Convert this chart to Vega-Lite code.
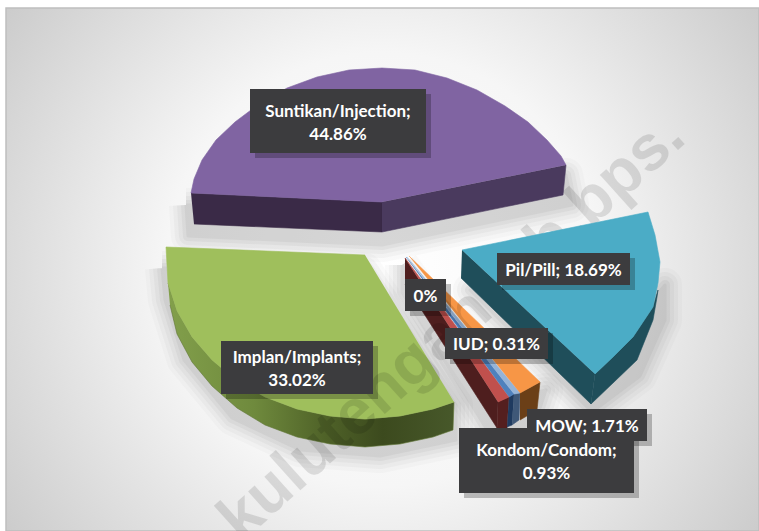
{
"$schema":"https://vega.github.io/schema/vega-lite/v6.json",
"width":759,"height":531,"padding":0,"autosize":{"type":"none"},"background":"#ffffff",
"config":{"view":{"stroke":null}},
"datasets":{
"panel":[{"x1":6,"y1":8,"x2":759,"y2":531}],
"shadows":[
{"id":"s1","i":0,"x":186,"y":205},{"id":"s1","i":1,"x":188,"y":236},{"id":"s1","i":2,"x":382,"y":245},{"id":"s1","i":3,"x":572,"y":205},{"id":"s1","i":4,"x":566,"y":175},{"id":"s1","i":5,"x":382,"y":205},{"id":"s1","i":6,"x":186,"y":205},
{"id":"s2","i":0,"x":162,"y":268},{"id":"s2","i":1,"x":165,"y":300},{"id":"s2","i":2,"x":184,"y":360},{"id":"s2","i":3,"x":232,"y":418},{"id":"s2","i":4,"x":300,"y":450},{"id":"s2","i":5,"x":380,"y":456},{"id":"s2","i":6,"x":456,"y":440},{"id":"s2","i":7,"x":456,"y":405},{"id":"s2","i":8,"x":365,"y":270},{"id":"s2","i":9,"x":162,"y":268},
{"id":"s3","i":0,"x":592,"y":412},{"id":"s3","i":1,"x":640,"y":376},{"id":"s3","i":2,"x":665,"y":320},{"id":"s3","i":3,"x":665,"y":285},{"id":"s3","i":4,"x":600,"y":360},{"id":"s3","i":5,"x":470,"y":290},{"id":"s3","i":6,"x":592,"y":412},
{"id":"s4","i":0,"x":402,"y":265},{"id":"s4","i":1,"x":402,"y":292},{"id":"s4","i":2,"x":492,"y":438},{"id":"s4","i":3,"x":535,"y":423},{"id":"s4","i":4,"x":546,"y":390},{"id":"s4","i":5,"x":500,"y":400},{"id":"s4","i":6,"x":402,"y":265}
],
"shapes":[
{"id":"a1","part":"Suntikan side left","i":0,"x":191,"y":193},{"id":"a1","part":"Suntikan side left","i":1,"x":382,"y":202},{"id":"a1","part":"Suntikan side left","i":2,"x":382,"y":232},{"id":"a1","part":"Suntikan side left","i":3,"x":194,"y":224},
{"id":"a2","part":"Suntikan side right","i":0,"x":382,"y":202},{"id":"a2","part":"Suntikan side right","i":1,"x":566,"y":165},{"id":"a2","part":"Suntikan side right","i":2,"x":563,"y":195},{"id":"a2","part":"Suntikan side right","i":3,"x":382,"y":232},
{"id":"a3","part":"Suntikan top","i":0,"x":382,"y":202},{"id":"a3","part":"Suntikan top","i":1,"x":191,"y":193},{"id":"a3","part":"Suntikan top","i":2,"x":194,"y":179},{"id":"a3","part":"Suntikan top","i":3,"x":202,"y":160},{"id":"a3","part":"Suntikan top","i":4,"x":216,"y":140},{"id":"a3","part":"Suntikan top","i":5,"x":235,"y":122},{"id":"a3","part":"Suntikan top","i":6,"x":259,"y":104},{"id":"a3","part":"Suntikan top","i":7,"x":287,"y":88},{"id":"a3","part":"Suntikan top","i":8,"x":317,"y":77},{"id":"a3","part":"Suntikan top","i":9,"x":349,"y":70},{"id":"a3","part":"Suntikan top","i":10,"x":382,"y":68},{"id":"a3","part":"Suntikan top","i":11,"x":415,"y":70},{"id":"a3","part":"Suntikan top","i":12,"x":447,"y":78},{"id":"a3","part":"Suntikan top","i":13,"x":477,"y":90},{"id":"a3","part":"Suntikan top","i":14,"x":505,"y":106},{"id":"a3","part":"Suntikan top","i":15,"x":528,"y":122},{"id":"a3","part":"Suntikan top","i":16,"x":547,"y":140},{"id":"a3","part":"Suntikan top","i":17,"x":561,"y":156},{"id":"a3","part":"Suntikan top","i":18,"x":566,"y":165},
{"id":"b1","part":"Implan side","i":0,"x":168,"y":283},{"id":"b1","part":"Implan side","i":1,"x":177,"y":311},{"id":"b1","part":"Implan side","i":2,"x":192,"y":337},{"id":"b1","part":"Implan side","i":3,"x":212,"y":360},{"id":"b1","part":"Implan side","i":4,"x":237,"y":381},{"id":"b1","part":"Implan side","i":5,"x":265,"y":397},{"id":"b1","part":"Implan side","i":6,"x":297,"y":409},{"id":"b1","part":"Implan side","i":7,"x":330,"y":416},{"id":"b1","part":"Implan side","i":8,"x":365,"y":419},{"id":"b1","part":"Implan side","i":9,"x":400,"y":416},{"id":"b1","part":"Implan side","i":10,"x":433,"y":409},{"id":"b1","part":"Implan side","i":11,"x":454,"y":402},{"id":"b1","part":"Implan side","i":12,"x":453,"y":430},{"id":"b1","part":"Implan side","i":13,"x":433,"y":437},{"id":"b1","part":"Implan side","i":14,"x":400,"y":444},{"id":"b1","part":"Implan side","i":15,"x":365,"y":447},{"id":"b1","part":"Implan side","i":16,"x":330,"y":444},{"id":"b1","part":"Implan side","i":17,"x":297,"y":437},{"id":"b1","part":"Implan side","i":18,"x":265,"y":425},{"id":"b1","part":"Implan side","i":19,"x":237,"y":408},{"id":"b1","part":"Implan side","i":20,"x":212,"y":386},{"id":"b1","part":"Implan side","i":21,"x":192,"y":362},{"id":"b1","part":"Implan side","i":22,"x":177,"y":334},{"id":"b1","part":"Implan side","i":23,"x":170,"y":305},
{"id":"b2","part":"Implan top","i":0,"x":365,"y":255},{"id":"b2","part":"Implan top","i":1,"x":166,"y":247},{"id":"b2","part":"Implan top","i":2,"x":168,"y":283},{"id":"b2","part":"Implan top","i":3,"x":177,"y":311},{"id":"b2","part":"Implan top","i":4,"x":192,"y":337},{"id":"b2","part":"Implan top","i":5,"x":212,"y":360},{"id":"b2","part":"Implan top","i":6,"x":237,"y":381},{"id":"b2","part":"Implan top","i":7,"x":265,"y":397},{"id":"b2","part":"Implan top","i":8,"x":297,"y":409},{"id":"b2","part":"Implan top","i":9,"x":330,"y":416},{"id":"b2","part":"Implan top","i":10,"x":365,"y":419},{"id":"b2","part":"Implan top","i":11,"x":400,"y":416},{"id":"b2","part":"Implan top","i":12,"x":433,"y":409},{"id":"b2","part":"Implan top","i":13,"x":454,"y":402},
{"id":"c1","part":"Pil side left","i":0,"x":462,"y":250},{"id":"c1","part":"Pil side left","i":1,"x":595,"y":374},{"id":"c1","part":"Pil side left","i":2,"x":591,"y":404},{"id":"c1","part":"Pil side left","i":3,"x":461,"y":278},
{"id":"c2","part":"Pil side right","i":0,"x":595,"y":374},{"id":"c2","part":"Pil side right","i":1,"x":613,"y":357},{"id":"c2","part":"Pil side right","i":2,"x":633,"y":337},{"id":"c2","part":"Pil side right","i":3,"x":653,"y":307},{"id":"c2","part":"Pil side right","i":4,"x":658,"y":290},{"id":"c2","part":"Pil side right","i":5,"x":657,"y":297},{"id":"c2","part":"Pil side right","i":6,"x":653,"y":320},{"id":"c2","part":"Pil side right","i":7,"x":637,"y":360},{"id":"c2","part":"Pil side right","i":8,"x":613,"y":383},{"id":"c2","part":"Pil side right","i":9,"x":591,"y":404},
{"id":"c3","part":"Pil top","i":0,"x":462,"y":250},{"id":"c3","part":"Pil top","i":1,"x":648,"y":212},{"id":"c3","part":"Pil top","i":2,"x":655,"y":235},{"id":"c3","part":"Pil top","i":3,"x":660,"y":262},{"id":"c3","part":"Pil top","i":4,"x":658,"y":283},{"id":"c3","part":"Pil top","i":5,"x":653,"y":307},{"id":"c3","part":"Pil top","i":6,"x":633,"y":337},{"id":"c3","part":"Pil top","i":7,"x":613,"y":357},{"id":"c3","part":"Pil top","i":8,"x":595,"y":374},
{"id":"d1","part":"Kondom wall","i":0,"x":405,"y":258},{"id":"d1","part":"Kondom wall","i":1,"x":498,"y":402},{"id":"d1","part":"Kondom wall","i":2,"x":497,"y":428},{"id":"d1","part":"Kondom wall","i":3,"x":405,"y":284},
{"id":"d2","part":"Kondom front","i":0,"x":498,"y":402},{"id":"d2","part":"Kondom front","i":1,"x":509,"y":397},{"id":"d2","part":"Kondom front","i":2,"x":507,"y":428},{"id":"d2","part":"Kondom front","i":3,"x":497,"y":428},
{"id":"d3","part":"Kondom top","i":0,"x":405,"y":258},{"id":"d3","part":"Kondom top","i":1,"x":509,"y":397},{"id":"d3","part":"Kondom top","i":2,"x":498,"y":402},
{"id":"e1","part":"IUD front","i":0,"x":509,"y":397},{"id":"e1","part":"IUD front","i":1,"x":514,"y":394},{"id":"e1","part":"IUD front","i":2,"x":512,"y":425},{"id":"e1","part":"IUD front","i":3,"x":507,"y":427},
{"id":"e2","part":"IUD top","i":0,"x":406,"y":257},{"id":"e2","part":"IUD top","i":1,"x":514,"y":394},{"id":"e2","part":"IUD top","i":2,"x":509,"y":397},
{"id":"f1","part":"MOW light front","i":0,"x":514,"y":394},{"id":"f1","part":"MOW light front","i":1,"x":520,"y":393},{"id":"f1","part":"MOW light front","i":2,"x":519,"y":420},{"id":"f1","part":"MOW light front","i":3,"x":512,"y":425},
{"id":"f2","part":"MOW light top","i":0,"x":407,"y":257},{"id":"f2","part":"MOW light top","i":1,"x":520,"y":393},{"id":"f2","part":"MOW light top","i":2,"x":514,"y":394},
{"id":"g1","part":"MOW front","i":0,"x":520,"y":393},{"id":"g1","part":"MOW front","i":1,"x":540,"y":382},{"id":"g1","part":"MOW front","i":2,"x":537,"y":410},{"id":"g1","part":"MOW front","i":3,"x":520,"y":420},
{"id":"g2","part":"MOW top","i":0,"x":409,"y":256},{"id":"g2","part":"MOW top","i":1,"x":540,"y":382},{"id":"g2","part":"MOW top","i":2,"x":520,"y":393}
],
"labels":[
{"slice":"Suntikan/Injection","share":44.86,"label":"Suntikan/Injection;\n44.86%","x1":250,"x2":426,"y1":89,"y2":153,"sx1":255,"sx2":431,"sy1":94,"sy2":158,"cx":338,"cy":112},
{"slice":"Implan/Implants","share":33.02,"label":"Implan/Implants;\n33.02%","x1":221,"x2":373,"y1":341,"y2":394,"sx1":226,"sx2":378,"sy1":346,"sy2":399,"cx":297,"cy":358},
{"slice":"Pil/Pill","share":18.69,"label":"Pil/Pill; 18.69%","x1":497,"x2":630,"y1":253,"y2":285,"sx1":502,"sx2":635,"sy1":258,"sy2":290,"cx":563.5,"cy":271},
{"slice":"0%","share":0,"label":"0%","x1":405,"x2":446,"y1":279,"y2":311,"sx1":410,"sx2":451,"sy1":284,"sy2":316,"cx":425.5,"cy":297},
{"slice":"IUD","share":0.31,"label":"IUD; 0.31%","x1":445,"x2":548,"y1":328,"y2":359,"sx1":450,"sx2":553,"sy1":333,"sy2":364,"cx":496.5,"cy":345},
{"slice":"Kondom/Condom","share":0.93,"label":"Kondom/Condom;\n0.93%","x1":459,"x2":634,"y1":428,"y2":493,"sx1":464,"sx2":639,"sy1":433,"sy2":498,"cx":546.5,"cy":451},
{"slice":"MOW","share":1.71,"label":"MOW; 1.71%","x1":527,"x2":647,"y1":409,"y2":441,"sx1":532,"sx2":652,"sy1":414,"sy2":446,"cx":587,"cy":427}
],
"watermark":[{"text":"kulutengahkab.bps.","x":452,"y":328}]
},
"encoding":{
"x":{"type":"quantitative","scale":{"domain":[0,759],"nice":false},"axis":null},
"y":{"type":"quantitative","scale":{"domain":[531,0],"nice":false},"axis":null}
},
"layer":[
{"data":{"name":"panel"},"mark":{"type":"rect","stroke":"#bfbfbf","strokeWidth":1.5,"fill":{"gradient":"radial","x1":0.5,"y1":0.5,"x2":0.5,"y2":0.5,"r1":0,"r2":0.72,"stops":[{"offset":0,"color":"#ffffff"},{"offset":0.4,"color":"#f6f6f6"},{"offset":1,"color":"#bdbdbd"}]}},"encoding":{"x":{"field":"x1"},"x2":{"field":"x2"},"y":{"field":"y1"},"y2":{"field":"y2"}}},
{"data":{"name":"shadows"},"mark":{"type":"line","fill":"#000000","stroke":"#000000","strokeWidth":34,"opacity":0.016,"strokeJoin":"round"},"encoding":{"x":{"field":"x"},"y":{"field":"y"},"detail":{"field":"id"},"order":{"field":"i"}}},
{"data":{"name":"shadows"},"mark":{"type":"line","fill":"#000000","stroke":"#000000","strokeWidth":26,"opacity":0.022,"strokeJoin":"round"},"encoding":{"x":{"field":"x"},"y":{"field":"y"},"detail":{"field":"id"},"order":{"field":"i"}}},
{"data":{"name":"shadows"},"mark":{"type":"line","fill":"#000000","stroke":"#000000","strokeWidth":18,"opacity":0.028,"strokeJoin":"round"},"encoding":{"x":{"field":"x"},"y":{"field":"y"},"detail":{"field":"id"},"order":{"field":"i"}}},
{"data":{"name":"shadows"},"mark":{"type":"line","fill":"#000000","stroke":"#000000","strokeWidth":10,"opacity":0.034,"strokeJoin":"round"},"encoding":{"x":{"field":"x"},"y":{"field":"y"},"detail":{"field":"id"},"order":{"field":"i"}}},
{"data":{"name":"shadows"},"mark":{"type":"line","fill":"#000000","stroke":"#000000","strokeWidth":3,"opacity":0.04,"strokeJoin":"round"},"encoding":{"x":{"field":"x"},"y":{"field":"y"},"detail":{"field":"id"},"order":{"field":"i"}}},
{"data":{"name":"shapes"},"transform":[{"filter":{"field":"id","oneOf":["b1"]}}],"mark":{"type":"line","strokeWidth":0.6,"stroke":"#5f7635","fill":{"gradient":"linear","x1":0,"y1":0,"x2":1,"y2":0,"stops":[{"offset":0,"color":"#829f4b"},{"offset":0.3,"color":"#6f8a3d"},{"offset":0.55,"color":"#4f6228"},{"offset":0.75,"color":"#3c4a1e"},{"offset":1,"color":"#47582a"}]}},"encoding":{"x":{"field":"x"},"y":{"field":"y"},"detail":{"field":"id"},"order":{"field":"i"}}},
{"data":{"name":"shapes"},"transform":[{"filter":{"field":"id","oneOf":["b2","d1","d2","d3","e1","e2","f1","f2","g1","g2"]}}],"mark":{"type":"line","strokeWidth":0.6,"strokeJoin":"round"},"encoding":{"x":{"field":"x"},"y":{"field":"y"},"detail":{"field":"id"},"order":{"field":"i"},
"fill":{"field":"part","type":"nominal","legend":null,"scale":{"domain":["Implan top","Kondom wall","Kondom front","Kondom top","IUD front","IUD top","MOW light front","MOW light top","MOW front","MOW top"],"range":["#9fbf5c","#4e1e1e","#541f1f","#c0504d","#1f3a5f","#4f81bd","#3f5878","#95b3d7","#6b3f17","#f79646"]}},
"stroke":{"field":"part","type":"nominal","legend":null,"scale":{"domain":["Implan top","Kondom wall","Kondom front","Kondom top","IUD front","IUD top","MOW light front","MOW light top","MOW front","MOW top"],"range":["#9fbf5c","#4e1e1e","#541f1f","#c0504d","#1f3a5f","#4f81bd","#3f5878","#95b3d7","#6b3f17","#f79646"]}}}},
{"data":{"name":"watermark"},"mark":{"type":"text","font":"Liberation Sans","fontWeight":"bold","fontSize":64,"angle":318,"color":"#000000","opacity":0.11,"align":"center","baseline":"middle"},"encoding":{"x":{"field":"x"},"y":{"field":"y"},"text":{"field":"text"}}},
{"data":{"name":"shapes"},"transform":[{"filter":{"field":"id","oneOf":["a1","a2","a3","c1","c2","c3"]}}],"mark":{"type":"line","strokeWidth":0.6,"strokeJoin":"round"},"encoding":{"x":{"field":"x"},"y":{"field":"y"},"detail":{"field":"id"},"order":{"field":"i"},
"fill":{"field":"part","type":"nominal","legend":null,"scale":{"domain":["Suntikan side left","Suntikan side right","Suntikan top","Pil side left","Pil side right","Pil top"],"range":["#3a2a47","#4a3a5e","#8064a2","#1f4e5a","#1f4e5a","#4bacc6"]}},
"stroke":{"field":"part","type":"nominal","legend":null,"scale":{"domain":["Suntikan side left","Suntikan side right","Suntikan top","Pil side left","Pil side right","Pil top"],"range":["#3a2a47","#4a3a5e","#8064a2","#1f4e5a","#1f4e5a","#4bacc6"]}}}},
{"data":{"name":"labels"},"mark":{"type":"rect","fill":"#000000","opacity":0.24},"encoding":{"x":{"field":"sx1"},"x2":{"field":"sx2"},"y":{"field":"sy1"},"y2":{"field":"sy2"}}},
{"data":{"name":"labels"},"mark":{"type":"rect","fill":"#3c3c3e"},"encoding":{"x":{"field":"x1"},"x2":{"field":"x2"},"y":{"field":"y1"},"y2":{"field":"y2"}}},
{"data":{"name":"labels"},"mark":{"type":"text","font":"Lato","fontWeight":"bold","fontSize":17,"color":"#ffffff","lineBreak":"\n","lineHeight":23,"align":"center","baseline":"middle"},"encoding":{"x":{"field":"cx"},"y":{"field":"cy"},"text":{"field":"label"}}}
],
"resolve":{"scale":{"fill":"independent","stroke":"independent"}}
}
